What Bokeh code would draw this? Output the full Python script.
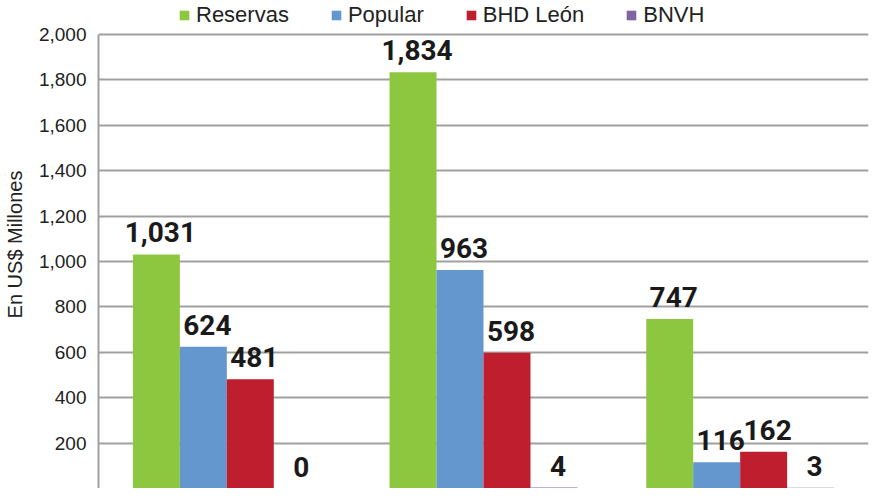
from bokeh.plotting import figure
from bokeh.models import (ColumnDataSource, FactorRange, Range1d, LabelSet,
                          Legend, LegendItem, NumeralTickFormatter, FixedTicker)
from bokeh.core.properties import value
from bokeh.transform import dodge
from bokeh.embed import file_html
from bokeh.resources import INLINE

# data (group names are not visible in the picture)
groups = ["1", "2", "3"]
series = ["Reservas", "Popular", "BHD León", "BNVH"]
reservas = [1031, 1834, 747]
popular = [624, 963, 116]
bhd_leon = [481, 598, 162]
bnvh = [0, 4, 3]
y_ticks = [200, 400, 600, 800, 1000, 1200, 1400, 1600, 1800, 2000]

colors = ["#8DC63F", "#6497CD", "#BE1E2D", "#8064A2"]
keys = ["reservas", "popular", "bhd_leon", "bnvh"]
values = [reservas, popular, bhd_leon, bnvh]

data = {"group": groups}
for k, v in zip(keys, values):
    data[k] = v
    data[k + "_txt"] = ["{:,}".format(x) for x in v]
source = ColumnDataSource(data)

p = figure(x_range=FactorRange(*groups), y_range=Range1d(0, 2150),
           width=880, height=488, output_backend="svg", toolbar_location=None,
           min_border_left=98, min_border_right=12, min_border_top=0,
           min_border_bottom=0)
p.outline_line_color = None
p.background_fill_color = "white"

bw = 0.183
offsets = [-1.5 * bw, -0.5 * bw, 0.5 * bw, 1.5 * bw]
items = []
for k, name, col, off in zip(keys, series, colors, offsets):
    r = p.vbar(x=dodge("group", off, range=p.x_range), top=k, bottom=0,
               width=bw, source=source, fill_color=col, line_color=None)
    items.append(LegendItem(label=name, renderers=[r]))
    labels = LabelSet(x=dodge("group", off, range=p.x_range), y=k,
                      text=k + "_txt", source=source, x_offset=4, y_offset=12,
                      text_align="center", text_baseline="alphabetic",
                      text_font=value("Roboto"), text_font_style="bold",
                      text_font_size="28px", text_color="#1a1a1a")
    p.add_layout(labels)

legend = Legend(items=items, orientation="horizontal", location=(80, 460))
legend.label_text_font = "Liberation Sans"
legend.label_text_font_size = "22px"
legend.label_text_color = "#222222"
legend.glyph_width = 12
legend.glyph_height = 12
legend.label_standoff = 6
legend.spacing = 41
legend.padding = 2
legend.margin = 0
legend.border_line_color = None
legend.background_fill_alpha = 0
p.add_layout(legend, "center")

p.xaxis.visible = False
p.xgrid.grid_line_color = None
p.ygrid.grid_line_color = "#A0A0A0"
p.ygrid.grid_line_width = 2
p.yaxis.ticker = FixedTicker(ticks=y_ticks)
p.yaxis.formatter = NumeralTickFormatter(format="0,0")
p.yaxis.bounds = (0, 2000)
p.yaxis.axis_line_color = "#A0A0A0"
p.yaxis.axis_line_width = 2
p.yaxis.major_tick_line_color = None
p.yaxis.minor_tick_line_color = None
p.yaxis.major_tick_out = 0
p.yaxis.major_label_standoff = 12
p.yaxis.major_label_text_font = "Liberation Sans"
p.yaxis.major_label_text_font_size = "19px"
p.yaxis.major_label_text_color = "#222222"
p.yaxis.axis_label = "En US$ Millones"
p.yaxis.axis_label_text_font = "Liberation Sans"
p.yaxis.axis_label_text_font_style = "normal"
p.yaxis.axis_label_text_font_size = "20px"
p.yaxis.axis_label_text_color = "#222222"
p.yaxis.axis_label_standoff = 10

open("out.html", "w").write(file_html(p, INLINE))
